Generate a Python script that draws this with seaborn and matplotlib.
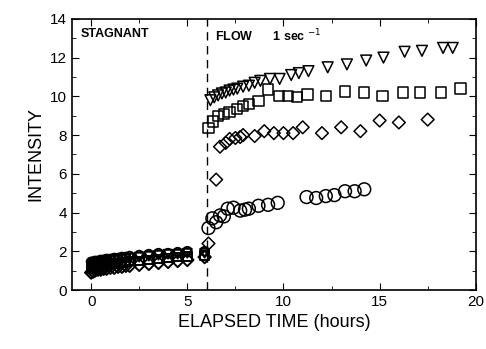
import numpy as np
import pandas as pd
import matplotlib
matplotlib.use("Agg")
import matplotlib.pyplot as plt
import seaborn as sns
from matplotlib.ticker import MultipleLocator

# stagnant period (0-5 h), all four runs overlap
t_stag = [0, 0.1, 0.2, 0.35, 0.5, 0.65, 0.8, 1.0, 1.2, 1.4, 1.6, 1.8, 2.0,
          2.5, 3.0, 3.5, 4.0, 4.5, 5.0, 5.9]
circ_stag = [1.45, 1.45, 1.5, 1.5, 1.55, 1.55, 1.6, 1.6, 1.65, 1.65, 1.7, 1.7,
             1.75, 1.8, 1.85, 1.9, 1.9, 1.95, 2.0, 2.0]
tri_stag = [1.3, 1.35, 1.35, 1.4, 1.4, 1.45, 1.5, 1.5, 1.55, 1.55, 1.6, 1.6,
            1.65, 1.7, 1.75, 1.8, 1.85, 1.85, 1.9, 1.9]
sq_stag = [1.1, 1.15, 1.2, 1.2, 1.25, 1.3, 1.3, 1.35, 1.35, 1.4, 1.4, 1.45,
           1.5, 1.5, 1.55, 1.6, 1.65, 1.7, 1.75, 1.8]
dia_stag = [0.9, 0.95, 1.0, 1.05, 1.05, 1.1, 1.1, 1.15, 1.15, 1.2, 1.2, 1.25,
            1.25, 1.3, 1.35, 1.4, 1.45, 1.5, 1.55, 1.7]

# flow period (1 sec^-1)
t_tri = [6.2, 6.4, 6.6, 6.8, 7.0, 7.2, 7.4, 7.6, 7.9, 8.2, 8.5, 8.8, 9.3, 9.8,
         10.4, 10.8, 11.3, 12.3, 13.3, 14.3, 15.2, 16.3, 17.2, 18.3, 18.8]
y_tri = [9.8, 9.95, 10.05, 10.15, 10.2, 10.3, 10.35, 10.4, 10.5, 10.55, 10.7,
         10.8, 10.9, 10.9, 11.1, 11.2, 11.3, 11.5, 11.65, 11.85, 12.0, 12.3,
         12.35, 12.5, 12.5]

t_sq = [6.1, 6.35, 6.6, 6.9, 7.2, 7.6, 7.9, 8.2, 8.7, 9.2, 9.75, 10.25, 10.7,
        11.25, 12.2, 13.2, 14.2, 15.15, 16.2, 17.1, 18.2, 19.2]
y_sq = [8.35, 8.7, 9.0, 9.1, 9.2, 9.35, 9.5, 9.6, 9.75, 10.35, 10.0, 10.0,
        9.95, 10.1, 10.0, 10.25, 10.2, 10.0, 10.2, 10.2, 10.2, 10.4]

t_dia = [6.1, 6.5, 6.7, 7.0, 7.2, 7.5, 7.75, 7.9, 8.5, 9.0, 9.5, 10.0, 10.5,
         11.0, 12.0, 13.0, 14.0, 15.0, 16.0, 17.5]
y_dia = [2.4, 5.7, 7.4, 7.6, 7.8, 7.85, 7.9, 8.0, 7.95, 8.2, 8.1, 8.1, 8.1,
         8.4, 8.1, 8.4, 8.2, 8.75, 8.65, 8.8]

t_circ = [6.1, 6.3, 6.5, 6.7, 6.9, 7.1, 7.4, 7.75, 8.0, 8.2, 8.7, 9.2, 9.7,
          11.2, 11.7, 12.2, 12.65, 13.2, 13.7, 14.2]
y_circ = [3.2, 3.7, 3.5, 3.85, 3.8, 4.2, 4.25, 4.1, 4.15, 4.2, 4.35, 4.4, 4.5,
          4.8, 4.75, 4.85, 4.9, 5.1, 5.1, 5.2]

plt.rcParams['font.family'] = ['Liberation Sans', 'DejaVu Sans']
fig, ax = plt.subplots(figsize=(4.86, 3.49), dpi=100)
fig.subplots_adjust(left=0.148, right=0.979, top=0.946, bottom=0.169)

stag = [(circ_stag, 'o'), (tri_stag, 'v'), (sq_stag, 's'), (dia_stag, 'D')]
for vals, m in stag:
    sns.scatterplot(x=t_stag, y=vals, marker=m, s=40, facecolor='none',
                    edgecolor='black', linewidth=1.4, ax=ax)

flow = [(t_tri, y_tri, 'v', 60), (t_sq, y_sq, 's', 55),
        (t_dia, y_dia, 'D', 42), (t_circ, y_circ, 'o', 85)]
for tx, ty, m, sz in flow:
    sns.scatterplot(x=tx, y=ty, marker=m, s=sz, facecolor='none',
                    edgecolor='black', linewidth=1.1, ax=ax)

ax.axvline(6, color='black', ls=(0, (6, 4)), lw=1)

ax.set_xlim(-1, 20)
ax.set_ylim(0, 14)
ax.xaxis.set_major_locator(MultipleLocator(5))
ax.xaxis.set_minor_locator(MultipleLocator(2.5))
ax.yaxis.set_major_locator(MultipleLocator(2))
ax.yaxis.set_minor_locator(MultipleLocator(1))
ax.tick_params(which='both', direction='in', top=True, right=True)
ax.tick_params(which='major', length=5, labelsize=11)
ax.tick_params(which='minor', length=3)
for sp in ax.spines.values():
    sp.set_linewidth(1.2)

ax.set_xlabel('ELAPSED TIME (hours)', fontsize=13)
ax.set_ylabel('INTENSITY', fontsize=13)

ax.text(-0.55, 13.55, 'STAGNANT', fontsize=9, fontweight='bold', va='top')
ax.text(6.45, 13.55, 'FLOW      1 sec $^{-1}$', fontsize=9, fontweight='bold', va='top')

plt.savefig('out.png', dpi=100)
